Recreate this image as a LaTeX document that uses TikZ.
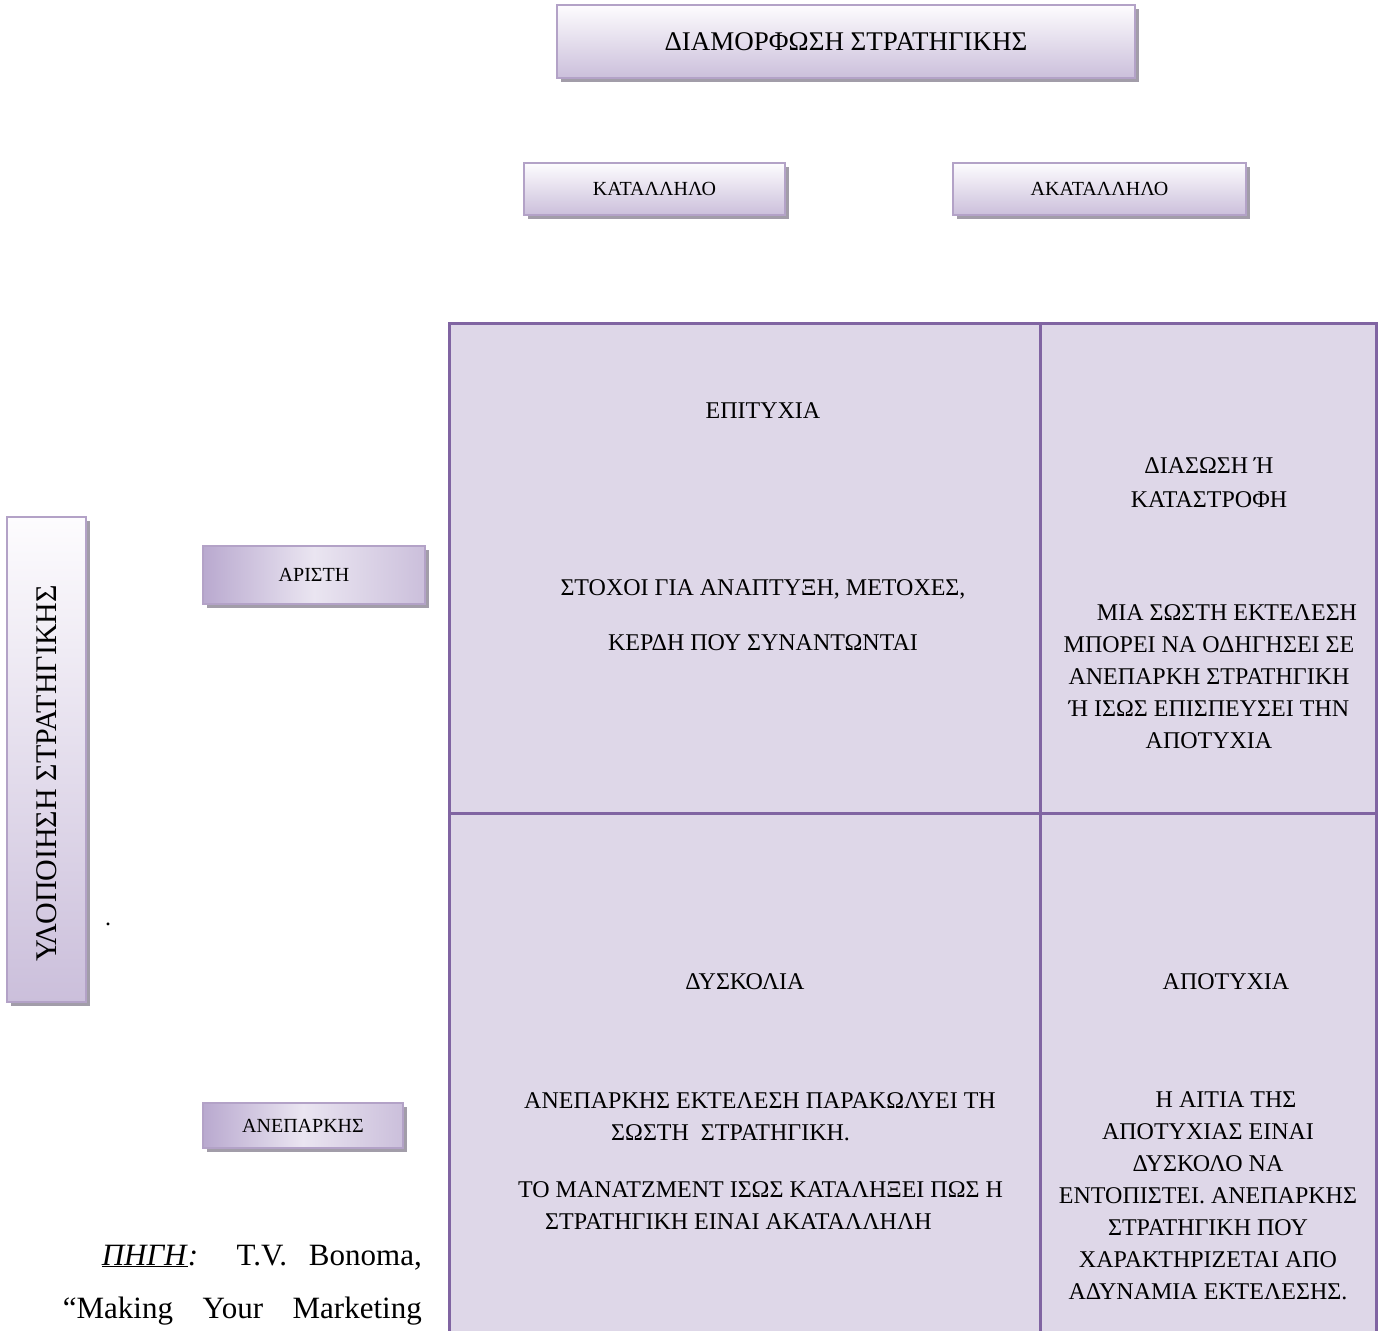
\documentclass[tikz,border=0pt]{standalone}
\usepackage{fontspec}
\setmainfont{Liberation Serif}
\usetikzlibrary{shadows}

\definecolor{gridline}{HTML}{8064A2}
\definecolor{cellfill}{HTML}{DED7E8}
\definecolor{boxborder}{HTML}{B3A2C7}
\definecolor{boxtop}{HTML}{FDFCFE}
\definecolor{boxbottom}{HTML}{CBBFDB}
\definecolor{sidedark}{HTML}{B9A9CF}
\definecolor{sidelight}{HTML}{EAE5F1}
\definecolor{shadowgray}{HTML}{A29DA9}

\begin{document}
\begin{tikzpicture}[x=1pt, y=-1pt,
    tabframe/.style={draw=boxborder, line width=1.6pt,
        drop shadow={shadow xshift=4pt, shadow yshift=-4pt, fill=shadowgray, opacity=1},
        inner sep=0pt},
    tab/.style={tabframe, top color=boxtop, bottom color=boxbottom},
    sidetab/.style={tabframe, left color=sidedark, right color=boxbottom, middle color=sidelight},
    cell/.style={draw=gridline, line width=3pt, fill=cellfill},
    celltext/.style={font=\fontsize{24}{32}\selectfont, inner sep=0pt}]

    \useasboundingbox (0,0) rectangle (1382,1331);
    \clip (0,0) rectangle (1382,1331);

    % headings of the matrix
    \node[tab, minimum width=578pt, minimum height=73pt, font=\fontsize{27}{32}\selectfont] (form) at (846,41.5) {ΔΙΑΜΟΡΦΩΣΗ ΣΤΡΑΤΗΓΙΚΗΣ};
    \node[tab, minimum width=261pt, minimum height=52pt, font=\fontsize{20}{24}\selectfont] (apt) at (654.5,189) {ΚΑΤΑΛΛΗΛΟ};
    \node[tab, minimum width=293pt, minimum height=52pt, font=\fontsize{20}{24}\selectfont] (inapt) at (1099.5,189) {ΑΚΑΤΑΛΛΗΛΟ};
    \node[tab, minimum width=79pt, minimum height=485pt, font=\fontsize{30}{34}\selectfont] (impl) at (46.5,759.5) {\rotatebox{90}{ΥΛΟΠΟΙΗΣΗ ΣΤΡΑΤΗΓΙΚΗΣ\hspace*{28pt}}};
    \node[sidetab, minimum width=222pt, minimum height=58pt, font=\fontsize{20}{24}\selectfont] (best) at (314,575) {ΑΡΙΣΤΗ};
    \node[sidetab, minimum width=200pt, minimum height=45pt, font=\fontsize{20}{24}\selectfont] (poor) at (303,1125.5) {ΑΝΕΠΑΡΚΗΣ};
    \node[font=\fontsize{24}{28}\selectfont, inner sep=0pt] (dot) at (108,924) {.};

    % the four cells
    \draw[cell] (449,323) rectangle (1040,813);
    \draw[cell] (1040,323) rectangle (1376,813);
    \draw[cell] (449,813) rectangle (1040,1350);
    \draw[cell] (1040,813) rectangle (1376,1350);

    \node[celltext] (success) at (763,411) {ΕΠΙΤΥΧΙΑ};
    \node[celltext, align=center] (successtxt) at (763,615.5) {ΣΤΟΧΟΙ ΓΙΑ ΑΝΑΠΤΥΞΗ, ΜΕΤΟΧΕΣ,\\[23pt]ΚΕΡΔΗ ΠΟΥ ΣΥΝΑΝΤΩΝΤΑΙ};

    \node[celltext, align=center] (rescue) at (1209,483) {ΔΙΑΣΩΣΗ Ή\\[2pt]ΚΑΤΑΣΤΡΟΦΗ};
    \node[celltext, align=center] (rescuetxt) at (1209,676.5) {\hspace*{36pt}ΜΙΑ ΣΩΣΤΗ ΕΚΤΕΛΕΣΗ\\ΜΠΟΡΕΙ ΝΑ ΟΔΗΓΗΣΕΙ ΣΕ\\ΑΝΕΠΑΡΚΗ ΣΤΡΑΤΗΓΙΚΗ\\Ή ΙΣΩΣ ΕΠΙΣΠΕΥΣΕΙ ΤΗΝ\\ΑΠΟΤΥΧΙΑ};

    \node[celltext] (trouble) at (745,982) {ΔΥΣΚΟΛΙΑ};
    \node[celltext, align=left, anchor=west] (troubletxt) at (524,1116.5) {ΑΝΕΠΑΡΚΗΣ ΕΚΤΕΛΕΣΗ ΠΑΡΑΚΩΛΥΕΙ ΤΗ\\\hspace*{87pt}ΣΩΣΤΗ\ \ ΣΤΡΑΤΗΓΙΚΗ.};
    \node[celltext, align=left, anchor=west] (troublemore) at (518,1206) {ΤΟ ΜΑΝΑΤΖΜΕΝΤ ΙΣΩΣ ΚΑΤΑΛΗΞΕΙ ΠΩΣ Η\\\hspace*{27pt}ΣΤΡΑΤΗΓΙΚΗ ΕΙΝΑΙ ΑΚΑΤΑΛΛΗΛΗ};

    \node[celltext] (failure) at (1226,982) {ΑΠΟΤΥΧΙΑ};
    \node[celltext, align=center] (failuretxt) at (1208,1196) {\hspace*{36pt}Η ΑΙΤΙΑ ΤΗΣ\\ΑΠΟΤΥΧΙΑΣ ΕΙΝΑΙ\\ΔΥΣΚΟΛΟ ΝΑ\\ΕΝΤΟΠΙΣΤΕΙ. ΑΝΕΠΑΡΚΗΣ\\ΣΤΡΑΤΗΓΙΚΗ ΠΟΥ\\ΧΑΡΑΚΤΗΡΙΖΕΤΑΙ ΑΠΟ\\ΑΔΥΝΑΜΙΑ ΕΚΤΕΛΕΣΗΣ.};

    % source
    \node[anchor=base east, inner sep=0pt, font=\fontsize{31}{40}\selectfont] (src) at (422,1265) {\makebox[320pt][s]{\underline{\textit{ΠΗΓΗ}}\textit{:} T.V. Bonoma,}};
    \node[anchor=base east, inner sep=0pt, font=\fontsize{31}{40}\selectfont] (srcmore) at (422,1318) {\makebox[359pt][s]{“Making Your Marketing}};

\end{tikzpicture}
\end{document}
